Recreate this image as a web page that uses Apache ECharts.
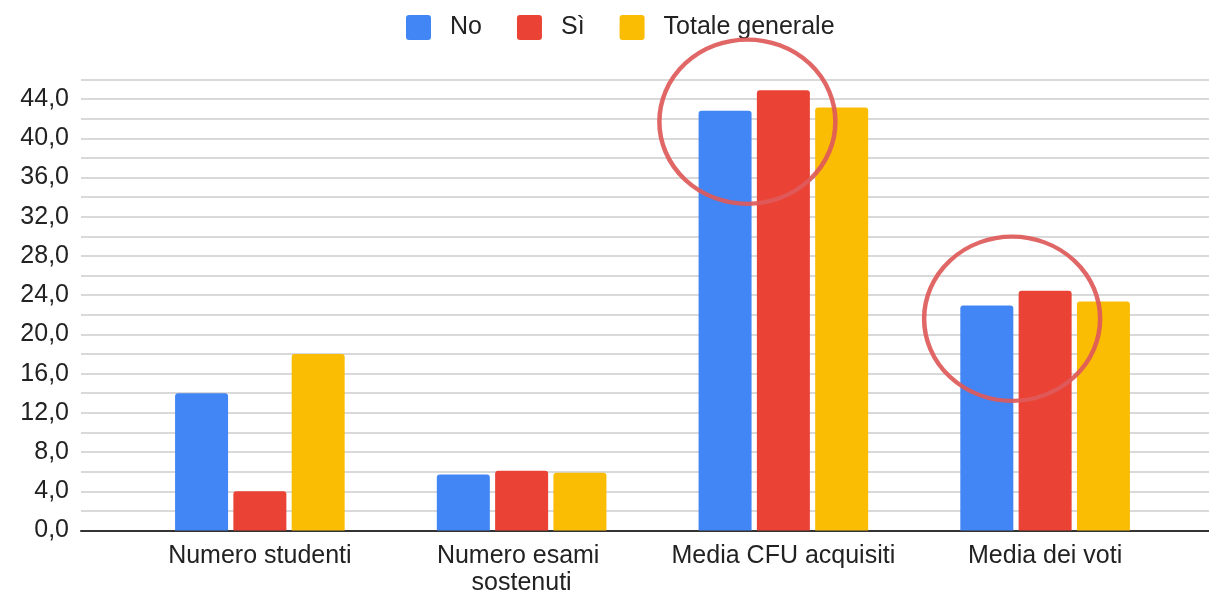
<!DOCTYPE html>
<html>
<head>
<meta charset="utf-8">
<script src="https://cdn.jsdelivr.net/npm/echarts@6/dist/echarts.min.js"></script>
<style>
html,body{margin:0;padding:0;background:#fff;}
#c{width:1209px;height:592px;}
</style>
</head>
<body>
<div id="c"></div>
<script>
const categories = ['Numero studenti', 'Numero esami sostenuti', 'Media CFU acquisiti', 'Media dei voti'];
const seriesNames = ['No', 'Sì', 'Totale generale'];
const valuesNo = [14, 5.7, 42.8, 22.95];
const valuesSi = [4, 6.1, 44.9, 24.45];
const valuesTotale = [18, 5.9, 43.15, 23.35];
const yMin = 0, yMax = 46, yStep = 2, yLabelStep = 4;
// annotation rings (data coords: category, value)
const rings = [
  {category: 'Media CFU acquisiti', value: 41.7, dx: -36},
  {category: 'Media dei voti', value: 21.6, dx: -33}
];

const colors = ['#4285F4', '#EA4335', '#FBBC04'];
const FONT = 'Arial, "Liberation Sans", sans-serif';
const chart = echarts.init(document.getElementById('c'), null, {renderer: 'canvas'});

const gridTop = 79.5, gridBottom = 61.5;
const option = {
  animation: false,
  color: colors,
  legend: {
    top: 15,
    left: 406,
    padding: 0,
    itemWidth: 25,
    itemHeight: 25,
    itemGap: 35,
    icon: 'path://M3,0 H22 A3,3 0 0 1 25,3 V22 A3,3 0 0 1 22,25 H3 A3,3 0 0 1 0,22 V3 A3,3 0 0 1 3,0 Z',
    textStyle: {fontSize: 25, color: '#222', fontFamily: FONT, padding: [0, 0, 0, 14]},
    data: seriesNames
  },
  grid: [
    {left: 81, right: 0, top: gridTop, bottom: gridBottom, outerBoundsMode: 'none'},
    {left: 129, right: 33, top: gridTop, bottom: gridBottom, outerBoundsMode: 'none'}
  ],
  xAxis: [
    {gridIndex: 0, type: 'value', min: 0, max: 1, show: true,
      axisLine: {show: true, lineStyle: {color: '#333', width: 2}},
      axisTick: {show: false}, axisLabel: {show: false}, splitLine: {show: false}},
    {gridIndex: 1, type: 'category', data: categories,
      axisLine: {show: false}, axisTick: {show: false},
      axisLabel: {fontSize: 25, color: '#222', fontFamily: FONT, margin: 12,
        width: 240, overflow: 'break', lineHeight: 27, interval: 0}}
  ],
  yAxis: [
    {gridIndex: 0, type: 'value', min: yMin, max: yMax, interval: yStep,
      axisLine: {show: false}, axisTick: {show: false},
      axisLabel: {fontSize: 25, color: '#222', fontFamily: FONT, margin: 12,
        formatter: v => (v % yLabelStep === 0 && v < yMax) ? v.toFixed(1).replace('.', ',') : ''},
      splitLine: {show: true, lineStyle: {color: '#cccccc', width: 1.5}}},
    {gridIndex: 1, type: 'value', min: yMin, max: yMax, interval: yStep, show: false,
      splitLine: {show: false}}
  ],
  series: [
    {name: seriesNames[0], type: 'bar', xAxisIndex: 1, yAxisIndex: 1, data: valuesNo,
      barWidth: 53, barGap: '10%', itemStyle: {borderRadius: [3, 3, 0, 0]}},
    {name: seriesNames[1], type: 'bar', xAxisIndex: 1, yAxisIndex: 1, data: valuesSi,
      barWidth: 53, barGap: '10%', itemStyle: {borderRadius: [3, 3, 0, 0]}},
    {name: seriesNames[2], type: 'bar', xAxisIndex: 1, yAxisIndex: 1, data: valuesTotale,
      barWidth: 53, barGap: '10%', itemStyle: {borderRadius: [3, 3, 0, 0]}}
  ]
};
chart.setOption(option);

const graphics = rings.map(r => {
  const p = chart.convertToPixel({xAxisIndex: 1, yAxisIndex: 1}, [r.category, r.value]);
  return {
    type: 'circle',
    x: p[0] + r.dx, y: p[1],
    scaleY: 84 / 90,
    shape: {cx: 0, cy: 0, r: 88},
    style: {fill: 'none', stroke: 'rgba(222,90,90,0.92)', lineWidth: 4.5, strokeNoScale: true},
    z: 100
  };
});
chart.setOption({graphic: graphics});
</script>
</body>
</html>
